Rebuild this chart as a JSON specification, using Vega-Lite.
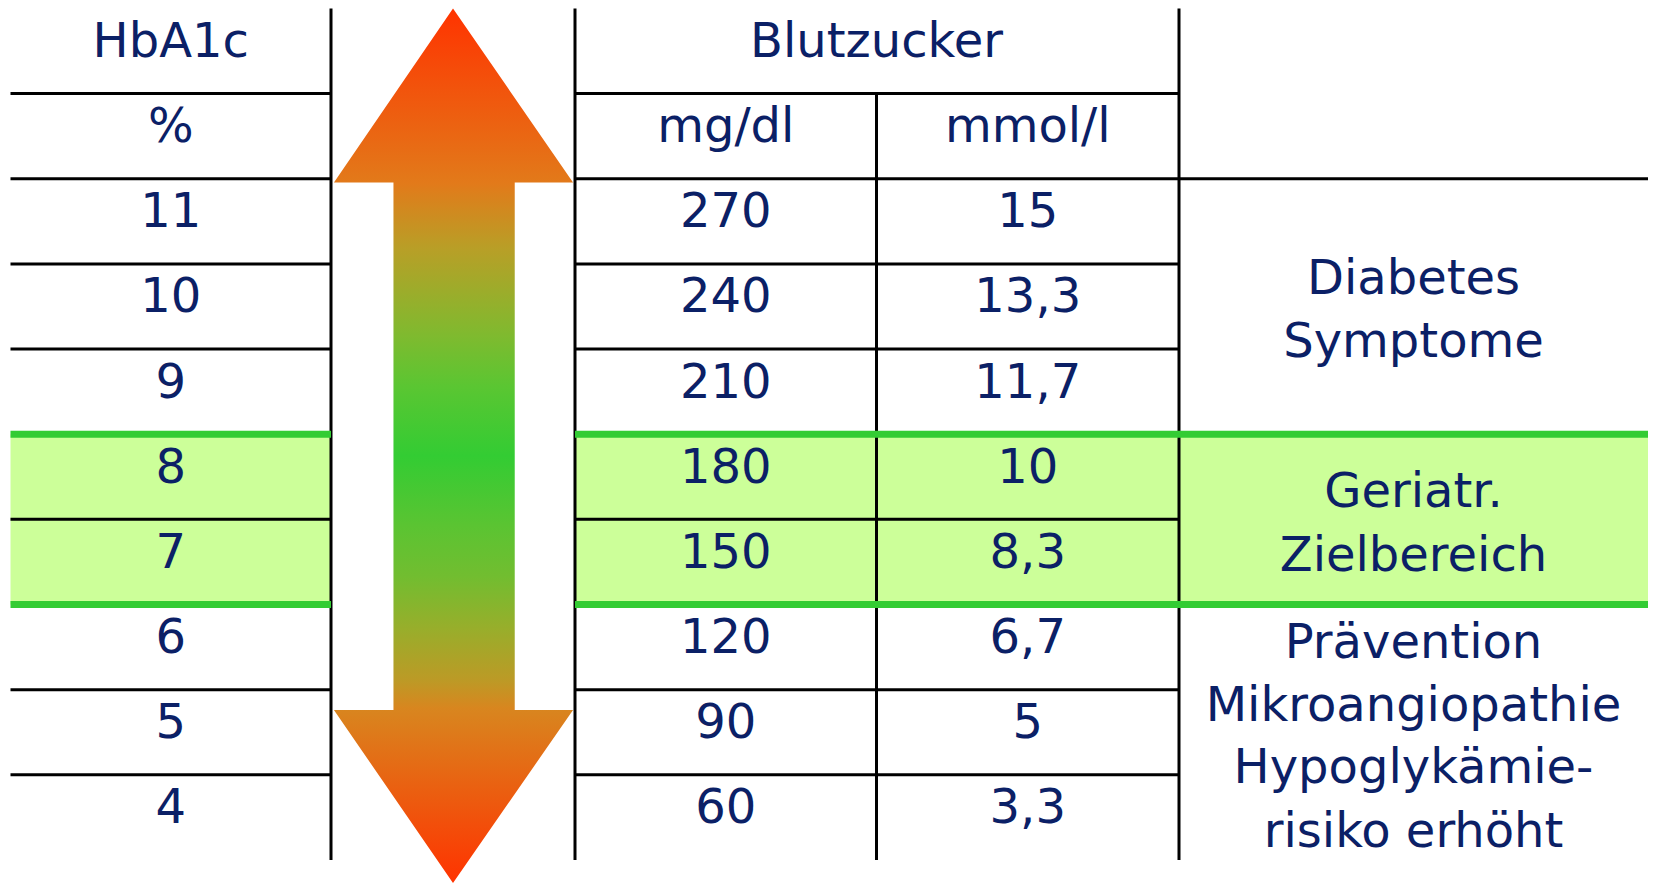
{
  "$schema": "https://vega.github.io/schema/vega-lite/v6.json",
  "width": 1654,
  "height": 883,
  "autosize": "none",
  "padding": 0,
  "background": "white",
  "config": {"view": {"stroke": null}},
  "datasets": {
    "bands": [
      {"x1": 0, "x2": 1, "y1": 5, "y2": 7},
      {"x1": 2, "x2": 5, "y1": 5, "y2": 7}
    ],
    "grid": [
      {"x1": 0, "x2": 1, "y1": 1, "y2": 1}, {"x1": 2, "x2": 4, "y1": 1, "y2": 1},
      {"x1": 0, "x2": 1, "y1": 2, "y2": 2}, {"x1": 2, "x2": 5, "y1": 2, "y2": 2},
      {"x1": 0, "x2": 1, "y1": 3, "y2": 3}, {"x1": 2, "x2": 4, "y1": 3, "y2": 3},
      {"x1": 0, "x2": 1, "y1": 4, "y2": 4}, {"x1": 2, "x2": 4, "y1": 4, "y2": 4},
      {"x1": 0, "x2": 1, "y1": 6, "y2": 6}, {"x1": 2, "x2": 4, "y1": 6, "y2": 6},
      {"x1": 0, "x2": 1, "y1": 8, "y2": 8}, {"x1": 2, "x2": 4, "y1": 8, "y2": 8},
      {"x1": 0, "x2": 1, "y1": 9, "y2": 9}, {"x1": 2, "x2": 4, "y1": 9, "y2": 9},
      {"x1": 1, "x2": 1, "y1": 0, "y2": 10},
      {"x1": 2, "x2": 2, "y1": 0, "y2": 10},
      {"x1": 3, "x2": 3, "y1": 1, "y2": 10},
      {"x1": 4, "x2": 4, "y1": 0, "y2": 10}
    ],
    "target": [
      {"x1": 0, "x2": 1, "y1": 5, "y2": 5}, {"x1": 2, "x2": 5, "y1": 5, "y2": 5},
      {"x1": 0, "x2": 1, "y1": 7, "y2": 7}, {"x1": 2, "x2": 5, "y1": 7, "y2": 7}
    ],
    "arrow": [
      {"y": 0, "left": 1.5, "right": 1.5},
      {"y": 2.044, "left": 1.012, "right": 1.992},
      {"y": 2.044, "left": 1.256, "right": 1.753},
      {"y": 8.239, "left": 1.256, "right": 1.753},
      {"y": 8.239, "left": 1.012, "right": 1.992},
      {"y": 10.27, "left": 1.5, "right": 1.5}
    ],
    "cells": [
      {"c": 0.5, "r": 0, "t": "HbA1c"},
      {"c": 3, "r": 0, "t": "Blutzucker"},
      {"c": 0.5, "r": 1, "t": "%"},
      {"c": 2.5, "r": 1, "t": "mg/dl"},
      {"c": 3.5, "r": 1, "t": "mmol/l"},
      {"c": 0.5, "r": 2, "t": "11"}, {"c": 2.5, "r": 2, "t": "270"}, {"c": 3.5, "r": 2, "t": "15"},
      {"c": 0.5, "r": 3, "t": "10"}, {"c": 2.5, "r": 3, "t": "240"}, {"c": 3.5, "r": 3, "t": "13,3"},
      {"c": 0.5, "r": 4, "t": "9"}, {"c": 2.5, "r": 4, "t": "210"}, {"c": 3.5, "r": 4, "t": "11,7"},
      {"c": 0.5, "r": 5, "t": "8"}, {"c": 2.5, "r": 5, "t": "180"}, {"c": 3.5, "r": 5, "t": "10"},
      {"c": 0.5, "r": 6, "t": "7"}, {"c": 2.5, "r": 6, "t": "150"}, {"c": 3.5, "r": 6, "t": "8,3"},
      {"c": 0.5, "r": 7, "t": "6"}, {"c": 2.5, "r": 7, "t": "120"}, {"c": 3.5, "r": 7, "t": "6,7"},
      {"c": 0.5, "r": 8, "t": "5"}, {"c": 2.5, "r": 8, "t": "90"}, {"c": 3.5, "r": 8, "t": "5"},
      {"c": 0.5, "r": 9, "t": "4"}, {"c": 2.5, "r": 9, "t": "60"}, {"c": 3.5, "r": 9, "t": "3,3"}
    ],
    "notes": [
      {"y": 3.354, "t": "Diabetes"},
      {"y": 4.09, "t": "Symptome"},
      {"y": 5.851, "t": "Geriatr."},
      {"y": 6.603, "t": "Zielbereich"},
      {"y": 7.632, "t": "Prävention"},
      {"y": 8.364, "t": "Mikroangiopathie"},
      {"y": 9.099, "t": "Hypoglykämie-"},
      {"y": 9.851, "t": "risiko erhöht"}
    ]
  },
  "layer": [
    {
      "data": {"name": "bands"},
      "mark": {"type": "rect", "color": "#ccff99"},
      "encoding": {
        "x": {"field": "x1", "type": "quantitative", "axis": null,
              "scale": {"domain": [0, 1, 2, 3, 4, 5], "range": [10.5, 331, 575, 876.5, 1179, 1648], "zero": false, "nice": false}},
        "x2": {"field": "x2"},
        "y": {"field": "y1", "type": "quantitative", "axis": null,
              "scale": {"domain": [0, 10], "range": [8.4, 860], "zero": false, "nice": false}},
        "y2": {"field": "y2"}
      }
    },
    {
      "data": {"name": "grid"},
      "mark": {"type": "rule", "color": "#000000", "strokeWidth": 3},
      "encoding": {
        "x": {"field": "x1", "type": "quantitative", "axis": null,
              "scale": {"domain": [0, 1, 2, 3, 4, 5], "range": [10.5, 331, 575, 876.5, 1179, 1648], "zero": false, "nice": false}},
        "x2": {"field": "x2"},
        "y": {"field": "y1", "type": "quantitative", "axis": null,
              "scale": {"domain": [0, 10], "range": [8.4, 860], "zero": false, "nice": false}},
        "y2": {"field": "y2"}
      }
    },
    {
      "data": {"name": "target"},
      "mark": {"type": "rule", "color": "#33cc33", "strokeWidth": 7},
      "encoding": {
        "x": {"field": "x1", "type": "quantitative", "axis": null,
              "scale": {"domain": [0, 1, 2, 3, 4, 5], "range": [10.5, 331, 575, 876.5, 1179, 1648], "zero": false, "nice": false}},
        "x2": {"field": "x2"},
        "y": {"field": "y1", "type": "quantitative", "axis": null,
              "scale": {"domain": [0, 10], "range": [8.4, 860], "zero": false, "nice": false}},
        "y2": {"field": "y2"}
      }
    },
    {
      "data": {"name": "arrow"},
      "mark": {
        "type": "area",
        "orient": "horizontal",
        "interpolate": "linear",
        "fill": {
          "gradient": "linear",
          "x1": 0, "y1": 0, "x2": 0, "y2": 1,
          "stops": [
            {"offset": 0, "color": "#ff3300"},
            {"offset": 0.2, "color": "#e27a1a"},
            {"offset": 0.275, "color": "#b89f27"},
            {"offset": 0.374, "color": "#7fba2f"},
            {"offset": 0.433, "color": "#5ac632"},
            {"offset": 0.512, "color": "#33cc33"},
            {"offset": 0.59, "color": "#5ac432"},
            {"offset": 0.65, "color": "#72bd30"},
            {"offset": 0.709, "color": "#98ae2b"},
            {"offset": 0.768, "color": "#bc9a26"},
            {"offset": 0.8, "color": "#d8861f"},
            {"offset": 1, "color": "#ff3300"}
          ]
        }
      },
      "encoding": {
        "x": {"field": "left", "type": "quantitative", "axis": null, "stack": null,
              "scale": {"domain": [0, 1, 2, 3, 4, 5], "range": [10.5, 331, 575, 876.5, 1179, 1648], "zero": false, "nice": false}},
        "x2": {"field": "right"},
        "y": {"field": "y", "type": "quantitative", "axis": null,
              "scale": {"domain": [0, 10], "range": [8.4, 860], "zero": false, "nice": false}}
      }
    },
    {
      "data": {"name": "cells"},
      "mark": {"type": "text", "font": "DejaVu Sans", "fontSize": 48, "color": "#0b2066",
               "align": "center", "baseline": "alphabetic", "dy": 48.5},
      "encoding": {
        "x": {"field": "c", "type": "quantitative", "axis": null,
              "scale": {"domain": [0, 1, 2, 3, 4, 5], "range": [10.5, 331, 575, 876.5, 1179, 1648], "zero": false, "nice": false}},
        "y": {"field": "r", "type": "quantitative", "axis": null,
              "scale": {"domain": [0, 10], "range": [8.4, 860], "zero": false, "nice": false}},
        "text": {"field": "t"}
      }
    },
    {
      "data": {"name": "notes"},
      "mark": {"type": "text", "font": "DejaVu Sans", "fontSize": 48, "color": "#0b2066",
               "align": "center", "baseline": "alphabetic"},
      "encoding": {
        "x": {"datum": 4.5, "type": "quantitative", "axis": null,
              "scale": {"domain": [0, 1, 2, 3, 4, 5], "range": [10.5, 331, 575, 876.5, 1179, 1648], "zero": false, "nice": false}},
        "y": {"field": "y", "type": "quantitative", "axis": null,
              "scale": {"domain": [0, 10], "range": [8.4, 860], "zero": false, "nice": false}},
        "text": {"field": "t"}
      }
    }
  ]
}
